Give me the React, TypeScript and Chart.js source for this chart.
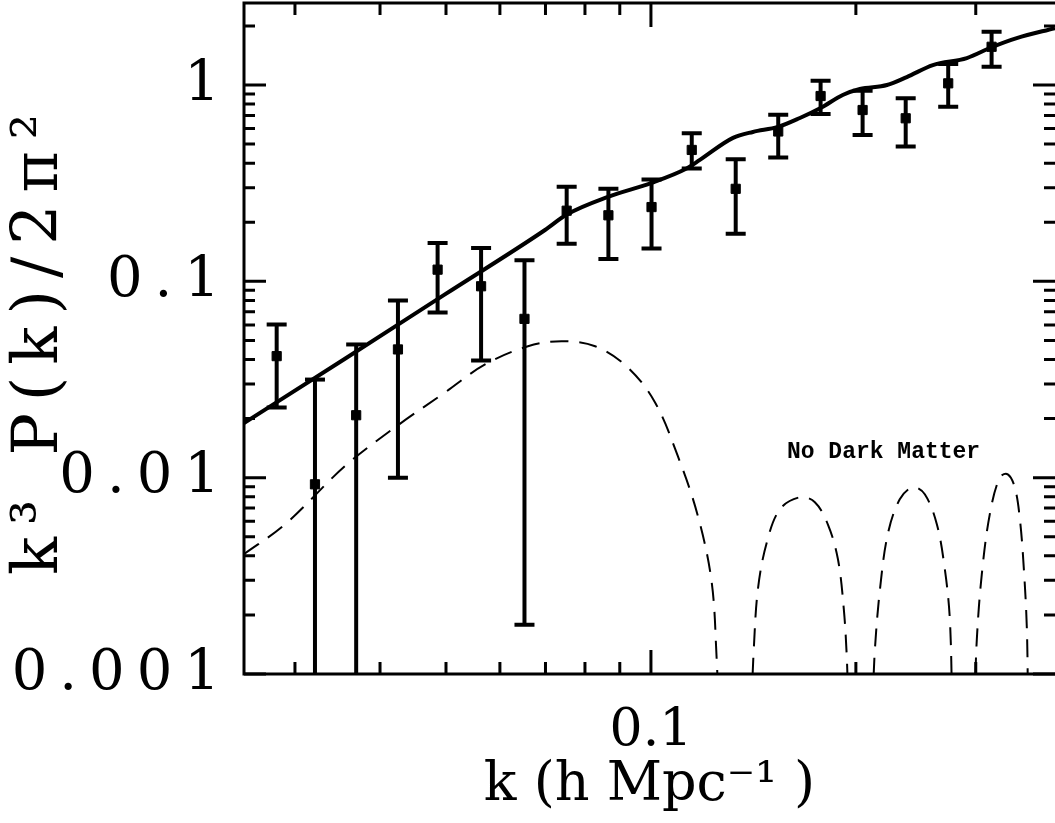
import React, { useEffect, useRef } from 'react';
import { Chart, registerables } from 'chart.js';

Chart.register(...registerables);

// ---- Data ----
const kData = [0.0282, 0.0321, 0.0369, 0.0425, 0.0486, 0.0563, 0.0652, 0.0752, 0.0866, 0.1002, 0.1148, 0.1332, 0.1538, 0.1775, 0.2046, 0.2367, 0.2733, 0.3165];
const pData = [0.0416, 0.00925, 0.0208, 0.045, 0.1147, 0.0944, 0.0644, 0.229, 0.217, 0.239, 0.467, 0.296, 0.58, 0.879, 0.746, 0.677, 1.02, 1.566];
const errHigh = [0.0603, 0.0316, 0.0477, 0.08, 0.157, 0.148, 0.128, 0.303, 0.296, 0.33, 0.568, 0.419, 0.706, 1.052, 0.935, 0.856, 1.279, 1.866];
const errLow = [0.0228, 0.0004, 0.0004, 0.01, 0.0693, 0.0395, 0.00178, 0.1555, 0.13, 0.147, 0.376, 0.175, 0.428, 0.712, 0.557, 0.486, 0.776, 1.239];

const modelK = [0.02525, 0.03553, 0.04982, 0.06989, 0.0752, 0.0865, 0.1002, 0.1128, 0.118, 0.132, 0.1412, 0.1536, 0.1655, 0.1775, 0.1913, 0.2027, 0.2222, 0.2376, 0.2595, 0.2911, 0.3168, 0.3446, 0.3922];
const modelP = [0.01897, 0.04032, 0.0858, 0.1826, 0.2189, 0.2696, 0.3176, 0.376, 0.4156, 0.5377, 0.5768, 0.6116, 0.6796, 0.764, 0.8895, 0.9543, 1.0, 1.098, 1.264, 1.372, 1.56, 1.734, 1.949];

const noDmK = [
  0.02525, 0.02902, 0.03554, 0.04208, 0.04983, 0.05706, 0.06597, 0.0739, 0.0828, 0.0925, 0.1014, 0.1095, 0.1172, 0.1228, 0.1249, 0.1256,
  0.13,
  0.1405, 0.1416, 0.1436, 0.1479, 0.1547, 0.1655, 0.1741, 0.1819, 0.1882, 0.192, 0.194, 0.1948,
  0.2,
  0.2116, 0.2133, 0.217, 0.2228, 0.232, 0.2425, 0.2525, 0.263, 0.2702, 0.2748, 0.277,
  0.29,
  0.2988, 0.3011, 0.3062, 0.3146, 0.3255, 0.3343, 0.3423, 0.3483, 0.353, 0.3566, 0.358,
];
const noDmP: (number | null)[] = [
  0.00408, 0.00579, 0.01147, 0.01804, 0.02717, 0.03772, 0.0467, 0.04955, 0.0467, 0.0364, 0.02416, 0.0129, 0.00639, 0.00294, 0.00119, 0.0007,
  null,
  0.0007, 0.00134, 0.00271, 0.00465, 0.00691, 0.00795, 0.0075, 0.00579, 0.00385, 0.00214, 0.00119, 0.0007,
  null,
  0.0007, 0.00134, 0.00271, 0.00516, 0.00776, 0.00894, 0.00823, 0.00579, 0.00342, 0.00191, 0.0007,
  null,
  0.0007, 0.00151, 0.00323, 0.00652, 0.01005, 0.0104, 0.00894, 0.00614, 0.00342, 0.0017, 0.0007,
];

const xTickValues = [0.03, 0.04, 0.05, 0.06, 0.07, 0.08, 0.09, 0.1, 0.2, 0.3];
const xTickLabels = ['', '', '', '', '', '', '', '0.1', '', ''];
const yTickValues = [
  0.001, 0.002, 0.003, 0.004, 0.005, 0.006, 0.007, 0.008, 0.009,
  0.01, 0.02, 0.03, 0.04, 0.05, 0.06, 0.07, 0.08, 0.09,
  0.1, 0.2, 0.3, 0.4, 0.5, 0.6, 0.7, 0.8, 0.9,
  1, 2,
];
const yMajorValues = [0.001, 0.01, 0.1, 1];
const yMajorLabels = ['0.001', '0.01', '0.1', '1'];

const xTitle = 'k (h Mpc\u207B\u00B9 )';
const yTitle = 'k\u00B3 P(k)/2\u03C0\u00B2';
const annotationText = 'No Dark Matter';
const annotationK = 0.1584;
const annotationP = 0.0135;

const X_MIN = 0.02525;
const X_MAX = 0.3922;
const Y_MIN = 0.001;
const Y_MAX = 2.617;

const near = (a: number, b: number) => Math.abs(a - b) <= Math.abs(b) * 1e-6;

const decorPlugin = {
  id: 'decor',
  afterDatasetsDraw(chart: any) {
    const { ctx, chartArea, scales } = chart;
    const xs = scales.x;
    const ys = scales.y;
    const { left, right, top, bottom } = chartArea;
    ctx.save();
    ctx.strokeStyle = '#000';
    ctx.fillStyle = '#000';
    ctx.lineCap = 'butt';

    // error bars
    ctx.lineWidth = 4;
    for (let i = 0; i < kData.length; i++) {
      const px = xs.getPixelForValue(kData[i]);
      const yHi = ys.getPixelForValue(errHigh[i]);
      const yLoRaw = ys.getPixelForValue(errLow[i]);
      const yLo = Math.min(yLoRaw, bottom);
      ctx.beginPath();
      ctx.moveTo(px, yHi);
      ctx.lineTo(px, yLo);
      ctx.stroke();
      const half = 10;
      ctx.beginPath();
      ctx.moveTo(px - half, yHi);
      ctx.lineTo(px + half, yHi);
      if (yLoRaw <= bottom) {
        ctx.moveTo(px - half, yLoRaw);
        ctx.lineTo(px + half, yLoRaw);
      }
      ctx.stroke();
    }

    // inward ticks on all four sides
    ctx.lineWidth = 3;
    ctx.beginPath();
    for (const v of xTickValues) {
      const px = xs.getPixelForValue(v);
      const len = near(v, 0.1) ? 24 : 12;
      ctx.moveTo(px, bottom);
      ctx.lineTo(px, bottom - len);
      ctx.moveTo(px, top);
      ctx.lineTo(px, top + len);
    }
    for (const v of yTickValues) {
      const py = ys.getPixelForValue(v);
      const len = yMajorValues.some((m) => near(v, m)) ? 22 : 11;
      ctx.moveTo(left, py);
      ctx.lineTo(left + len, py);
      ctx.moveTo(right + 2, py);
      ctx.lineTo(right - len, py);
    }
    ctx.stroke();

    // frame (right side lies at the picture's edge)
    ctx.lineWidth = 3;
    ctx.beginPath();
    ctx.moveTo(right + 2, top);
    ctx.lineTo(left, top);
    ctx.lineTo(left, bottom);
    ctx.lineTo(right + 2, bottom);
    ctx.stroke();

    // annotation
    ctx.font = 'bold 23px "Liberation Mono"';
    ctx.textAlign = 'left';
    ctx.textBaseline = 'middle';
    ctx.fillText(annotationText, xs.getPixelForValue(annotationK), ys.getPixelForValue(annotationP));
    ctx.restore();

    // letter spacing for the y-axis labels/title, drawn after this hook
    (ctx as any).letterSpacing = '12px';
  },
  afterDraw(chart: any) {
    (chart.ctx as any).letterSpacing = '0px';
  },
};

export default function App() {
  const ref = useRef<HTMLCanvasElement>(null);
  useEffect(() => {
    const canvas = ref.current!;
    const chart = new Chart(canvas, {
      type: 'line',
      data: {
        datasets: [
          {
            label: 'model',
            data: modelK.map((k, i) => ({ x: k, y: modelP[i] })),
            borderColor: '#000',
            borderWidth: 4,
            pointRadius: 0,
            cubicInterpolationMode: 'monotone',
            fill: false,
          },
          {
            label: 'No Dark Matter',
            data: noDmK.map((k, i) => ({ x: k, y: noDmP[i] })),
            borderColor: '#000',
            borderWidth: 2,
            borderDash: [18, 11],
            pointRadius: 0,
            spanGaps: false,
            tension: 0.35,
            fill: false,
          },
          {
            type: 'scatter',
            label: 'data',
            data: kData.map((k, i) => ({ x: k, y: pData[i] })),
            pointStyle: 'rect',
            pointRadius: 6.5,
            borderWidth: 1,
            backgroundColor: '#000',
            borderColor: '#000',
            showLine: false,
          } as any,
        ],
      },
      options: {
        responsive: false,
        animation: false,
        devicePixelRatio: 1,
        layout: { autoPadding: false, padding: { top: 3, left: 0, right: 0, bottom: 0 } },
        plugins: { legend: { display: false }, tooltip: { enabled: false } },
        scales: {
          x: {
            type: 'logarithmic',
            position: 'bottom',
            min: X_MIN,
            max: X_MAX,
            grid: { display: false, drawTicks: false },
            border: { display: false },
            afterBuildTicks: (s: any) => {
              s.ticks = xTickValues.map((v) => ({ value: v }));
            },
            afterFit: (s: any) => {
              s.height = 149;
              s.paddingLeft = 0;
              s.paddingRight = 0;
            },
            ticks: {
              autoSkip: false,
              maxRotation: 0,
              padding: 26,
              color: '#000',
              font: { family: '"DejaVu Serif"', size: 52 },
              callback: (v: any) => {
                const i = xTickValues.findIndex((t) => near(Number(v), t));
                return i >= 0 ? xTickLabels[i] : '';
              },
            },
            title: {
              display: true,
              text: xTitle,
              color: '#000',
              font: { family: '"DejaVu Serif"', size: 54, lineHeight: 1 },
              padding: { top: 0, bottom: 10 },
            },
          },
          y: {
            type: 'logarithmic',
            position: 'left',
            min: Y_MIN,
            max: Y_MAX,
            grid: { display: false, drawTicks: false, z: 2 },
            border: { display: false },
            afterBuildTicks: (s: any) => {
              s.ticks = yTickValues.map((v) => ({ value: v }));
            },
            afterFit: (s: any) => {
              s.width = 244;
              s.paddingTop = 0;
              s.paddingBottom = 0;
            },
            ticks: {
              autoSkip: false,
              padding: 12,
              z: 1,
              color: '#000',
              font: { family: '"DejaVu Serif"', size: 56 },
              callback: (v: any) => {
                const i = yMajorValues.findIndex((t) => near(Number(v), t));
                return i >= 0 ? yMajorLabels[i] : '';
              },
            },
            title: {
              display: true,
              text: yTitle,
              color: '#000',
              font: { family: '"DejaVu Serif"', size: 63, lineHeight: 1.2 },
              padding: { top: 3, bottom: 0 },
            },
          },
        },
      },
      plugins: [decorPlugin],
    } as any);
    return () => chart.destroy();
  }, []);

  return (
    <div style={{ position: 'absolute', left: 0, top: 0, width: 1055, height: 823, background: '#fff' }}>
      <canvas ref={ref} width={1055} height={823} style={{ display: 'block' }} />
    </div>
  );
}
